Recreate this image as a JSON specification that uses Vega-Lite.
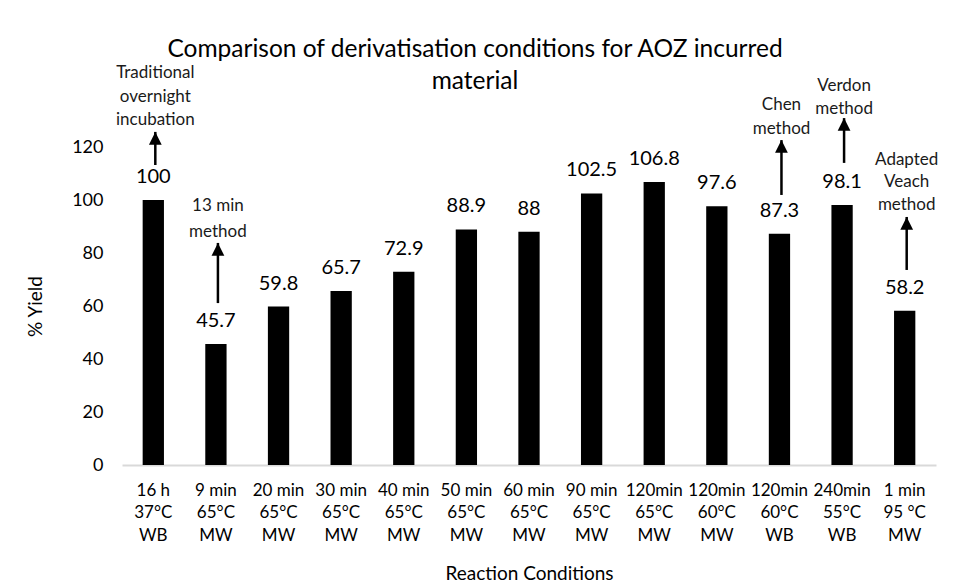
{
  "$schema": "https://vega.github.io/schema/vega-lite/v6.json",
  "autosize": {"type": "none"},
  "width": 814,
  "height": 318,
  "padding": {"left": 122, "top": 147, "right": 18, "bottom": 123},
  "background": "white",
  "title": {
    "text": ["Comparison of derivatisation conditions for AOZ incurred", "material"],
    "font": "Lato",
    "fontSize": 24.5,
    "fontWeight": "normal",
    "color": "#000000",
    "anchor": "middle",
    "dx": -54,
    "offset": -30,
    "lineHeight": 32
  },
  "config": {
    "view": {"stroke": null},
    "font": "Lato"
  },
  "datasets": {
    "bars": [
      {"cond": "16 h|37°C|WB", "value": 100},
      {"cond": "9 min|65°C|MW", "value": 45.7},
      {"cond": "20 min|65°C|MW", "value": 59.8},
      {"cond": "30 min|65°C|MW", "value": 65.7},
      {"cond": "40 min|65°C|MW", "value": 72.9},
      {"cond": "50 min|65°C|MW", "value": 88.9},
      {"cond": "60 min|65°C|MW", "value": 88},
      {"cond": "90 min|65°C|MW", "value": 102.5},
      {"cond": "120min|65°C|MW", "value": 106.8},
      {"cond": "120min|60°C|MW", "value": 97.6},
      {"cond": "120min|60°C|WB", "value": 87.3},
      {"cond": "240min|55°C|WB", "value": 98.1},
      {"cond": "1 min|95 °C|MW", "value": 58.2}
    ],
    "notes": [
      {"cond": "16 h|37°C|WB", "y": 147.9, "line": "Traditional"},
      {"cond": "16 h|37°C|WB", "y": 138.9, "line": "overnight"},
      {"cond": "16 h|37°C|WB", "y": 130.2, "line": "incubation"},
      {"cond": "9 min|65°C|MW", "y": 97.7, "line": "13 min"},
      {"cond": "9 min|65°C|MW", "y": 87.9, "line": "method"},
      {"cond": "120min|60°C|WB", "y": 135.8, "line": "Chen"},
      {"cond": "120min|60°C|WB", "y": 126.8, "line": "method"},
      {"cond": "240min|55°C|WB", "y": 143.0, "line": "Verdon"},
      {"cond": "240min|55°C|WB", "y": 134.3, "line": "method"},
      {"cond": "1 min|95 °C|MW", "y": 115.1, "line": "Adapted"},
      {"cond": "1 min|95 °C|MW", "y": 106.8, "line": "Veach"},
      {"cond": "1 min|95 °C|MW", "y": 98.1, "line": "method"}
    ],
    "arrows": [
      {"cond": "16 h|37°C|WB", "from": 113.2, "to": 125.7},
      {"cond": "9 min|65°C|MW", "from": 61.1, "to": 83.8},
      {"cond": "120min|60°C|WB", "from": 101.9, "to": 122.6},
      {"cond": "240min|55°C|WB", "from": 114.0, "to": 130.9},
      {"cond": "1 min|95 °C|MW", "from": 73.6, "to": 93.6}
    ]
  },
  "layer": [
    {
      "data": {"name": "bars"},
      "mark": {"type": "bar", "color": "#000000"},
      "encoding": {
        "x": {
          "field": "cond",
          "type": "nominal",
          "sort": null,
          "scale": {
            "domain": ["16 h|37°C|WB", "9 min|65°C|MW", "20 min|65°C|MW", "30 min|65°C|MW", "40 min|65°C|MW", "50 min|65°C|MW", "60 min|65°C|MW", "90 min|65°C|MW", "120min|65°C|MW", "120min|60°C|MW", "120min|60°C|WB", "240min|55°C|WB", "1 min|95 °C|MW"],
            "paddingInner": 0.66,
            "paddingOuter": 0.33
          },
          "axis": {
            "title": "Reaction Conditions",
            "titleFont": "Lato",
            "titleFontSize": 19,
            "titleFontWeight": "normal",
            "titleColor": "#000000",
            "titlePadding": 21,
            "labelAngle": 0,
            "labelFont": "Lato",
            "labelFontSize": 17,
            "labelColor": "#000000",
            "labelPadding": 17,
            "labelLineHeight": 22.5,
            "labelExpr": "split(datum.label, '|')",
            "ticks": false,
            "domainColor": "#d9d9d9",
            "domainWidth": 2
          }
        },
        "y": {
          "field": "value",
          "type": "quantitative",
          "scale": {"domain": [0, 120], "nice": false},
          "axis": {
            "title": "% Yield",
            "titleFont": "Lato",
            "titleFontSize": 19,
            "titleFontWeight": "normal",
            "titleColor": "#000000",
            "titlePadding": 26,
            "values": [0, 20, 40, 60, 80, 100, 120],
            "grid": false,
            "domain": false,
            "ticks": false,
            "labelFont": "Lato",
            "labelFontSize": 18,
            "labelColor": "#000000",
            "labelPadding": 19
          }
        }
      }
    },
    {
      "data": {"name": "bars"},
      "mark": {"type": "text", "baseline": "bottom", "dy": -13, "fontSize": 20, "font": "Lato", "color": "#000000"},
      "encoding": {
        "x": {"field": "cond", "type": "nominal", "sort": null},
        "y": {"field": "value", "type": "quantitative"},
        "text": {"field": "value", "type": "nominal"}
      }
    },
    {
      "data": {"name": "notes"},
      "mark": {"type": "text", "baseline": "middle", "fontSize": 17, "font": "Lato", "fontWeight": "normal", "color": "#1a1a1a", "dx": 2},
      "encoding": {
        "x": {"field": "cond", "type": "nominal", "sort": null},
        "y": {"field": "y", "type": "quantitative"},
        "text": {"field": "line", "type": "nominal"}
      }
    },
    {
      "data": {"name": "arrows"},
      "mark": {"type": "rule", "color": "#000000", "strokeWidth": 2.5, "xOffset": 2},
      "encoding": {
        "x": {"field": "cond", "type": "nominal", "sort": null},
        "y": {"field": "from", "type": "quantitative"},
        "y2": {"field": "to"}
      }
    },
    {
      "data": {"name": "arrows"},
      "mark": {"type": "point", "shape": "M0,0L-0.5,1L0.5,1Z", "filled": true, "color": "#000000", "opacity": 1, "size": 650, "xOffset": 2},
      "encoding": {
        "x": {"field": "cond", "type": "nominal", "sort": null},
        "y": {"field": "to", "type": "quantitative"}
      }
    }
  ]
}
